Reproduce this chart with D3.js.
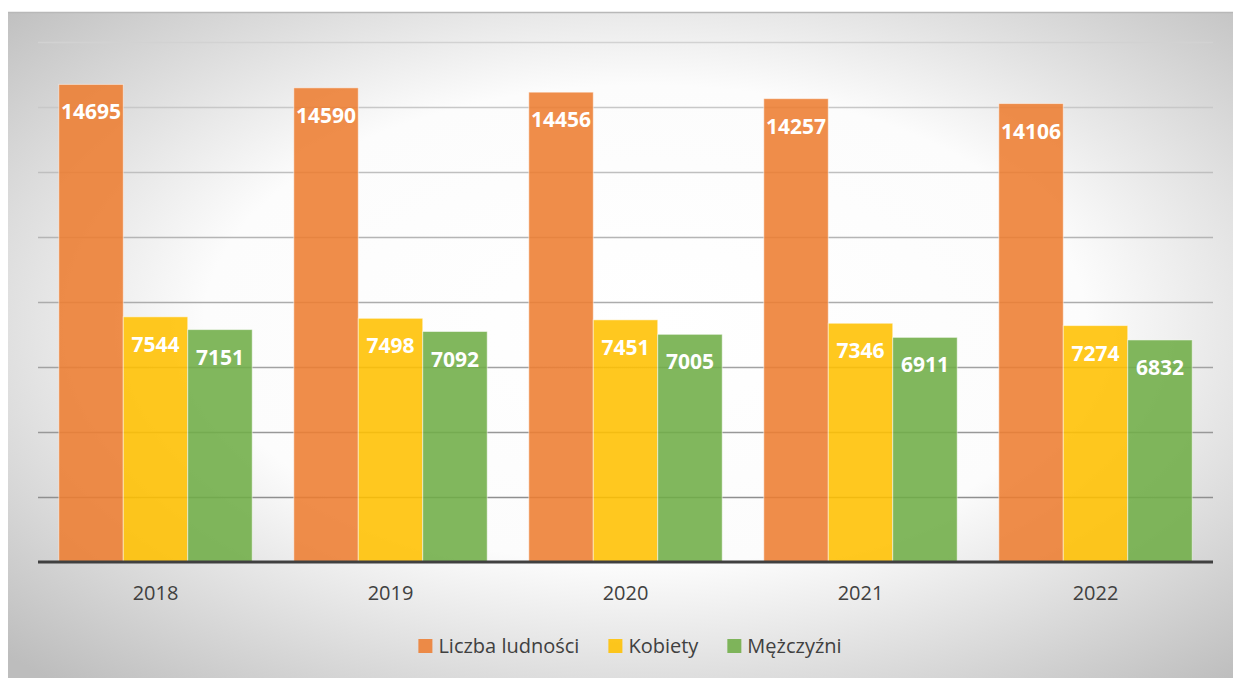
<!DOCTYPE html>
<html lang="pl">
<head>
<meta charset="UTF-8">
<title>Liczba ludności 2018-2022</title>
<script src="https://d3js.org/d3.v7.min.js"></script>
<style>
    body { margin: 0; background: #ffffff; }
    svg { display: block; font-family: 'Open Sans', 'DejaVu Sans', sans-serif; }
</style>
</head>
<body>
<svg id="chart" width="1233" height="678"></svg>
<script>
const years = ["2018", "2019", "2020", "2021", "2022"];
const ludnosc = [14695, 14590, 14456, 14257, 14106];
const kobiety = [7544, 7498, 7451, 7346, 7274];
const mezczyzni = [7151, 7092, 7005, 6911, 6832];
const seriesNames = ["Liczba ludności", "Kobiety", "Mężczyźni"];
const seriesColors = ["#ED7D31", "#FFC000", "#70AD47"];
const yTicks = [0, 2000, 4000, 6000, 8000, 10000, 12000, 14000, 16000];

const seriesValues = [ludnosc, kobiety, mezczyzni];
const data = years.map((yr, i) => ({
    year: yr,
    values: seriesNames.map((name, k) => ({ name, k, value: seriesValues[k][i] }))
}));

const svg = d3.select("#chart");
const plot = { left: 38, right: 1213, top: 42, bottom: 562 };

// background with soft radial gradient
const defs = svg.append("defs");
const grad = defs.append("radialGradient")
    .attr("id", "bg")
    .attr("cx", 0.52).attr("cy", 0.47).attr("r", 0.72);
grad.append("stop").attr("offset", 0).attr("stop-color", "#ffffff");
grad.append("stop").attr("offset", 0.5).attr("stop-color", "#fcfcfc");
grad.append("stop").attr("offset", 1).attr("stop-color", "#bdbdbd");

svg.append("rect")
    .attr("x", 8).attr("y", 12)
    .attr("width", 1225).attr("height", 666)
    .attr("fill", "url(#bg)");
svg.append("line")
    .attr("x1", 8).attr("x2", 1233)
    .attr("y1", 12.5).attr("y2", 12.5)
    .attr("stroke", "#b8b8b8").attr("stroke-width", 1.5);

const x = d3.scaleBand()
    .domain(years)
    .range([plot.left, plot.right])
    .paddingInner(0.177)
    .paddingOuter(0.0885);

const xs = d3.scaleBand()
    .domain(seriesNames)
    .range([0, x.bandwidth()]);

const y = d3.scaleLinear()
    .domain([0, 16000])
    .range([plot.bottom, plot.top]);

// gridlines get darker toward the bottom
const gridColor = d3.scaleLinear()
    .domain([plot.top, plot.bottom])
    .range(["#d2d2d2", "#858585"]);

svg.append("g")
    .attr("transform", `translate(${plot.left},0)`)
    .call(d3.axisLeft(y).tickValues(yTicks.filter(t => t > 0))
        .tickSize(-(plot.right - plot.left)).tickFormat(""))
    .call(g => g.select(".domain").remove())
    .call(g => g.selectAll(".tick line")
        .attr("stroke", d => gridColor(y(d)))
        .attr("stroke-width", 1.5));

// bars
const groups = svg.append("g")
    .selectAll("g")
    .data(data)
    .join("g")
    .attr("transform", d => `translate(${x(d.year)},0)`);

groups.selectAll("rect")
    .data(d => d.values)
    .join("rect")
    .attr("x", d => xs(d.name))
    .attr("y", d => y(d.value))
    .attr("width", xs.bandwidth())
    .attr("height", d => y(0) - y(d.value))
    .attr("fill", d => seriesColors[d.k])
    .attr("fill-opacity", 0.88)
    .attr("stroke", "#ffffff")
    .attr("stroke-opacity", 0.5)
    .attr("stroke-width", 1);

groups.selectAll("text")
    .data(d => d.values)
    .join("text")
    .attr("x", d => xs(d.name) + xs.bandwidth() / 2)
    .attr("y", d => y(d.value) + 35)
    .attr("text-anchor", "middle")
    .attr("fill", "#ffffff")
    .attr("font-weight", "bold")
    .attr("font-size", 21)
    .text(d => d.value);

// x axis
svg.append("g")
    .attr("transform", `translate(0,${plot.bottom})`)
    .call(d3.axisBottom(x).tickSize(0).tickPadding(24))
    .call(g => g.select(".domain").remove())
    .call(g => g.selectAll("text")
        .attr("fill", "#404040")
        .attr("font-size", 20)
        .attr("font-family", "'Open Sans', sans-serif"));

svg.append("line")
    .attr("x1", plot.left).attr("x2", plot.right)
    .attr("y1", plot.bottom).attr("y2", plot.bottom)
    .attr("stroke", "#404040").attr("stroke-width", 3);

// legend
const legend = svg.append("g");
const items = legend.selectAll("g")
    .data(seriesNames)
    .join("g");
items.append("rect")
    .attr("width", 14).attr("height", 14)
    .attr("y", 639)
    .attr("fill", (d, i) => seriesColors[i])
    .attr("fill-opacity", 0.88);
items.append("text")
    .attr("x", 20).attr("y", 653)
    .attr("fill", "#404040")
    .attr("font-size", 20)
    .text(d => d);

let offset = 0;
items.each(function() {
    const w = d3.select(this).select("text").node().getComputedTextLength();
    d3.select(this).attr("transform", `translate(${offset},0)`);
    offset += 20 + w + 29;
});
const total = offset - 29;
legend.attr("transform", `translate(${630 - total / 2},0)`);
</script>
</body>
</html>
